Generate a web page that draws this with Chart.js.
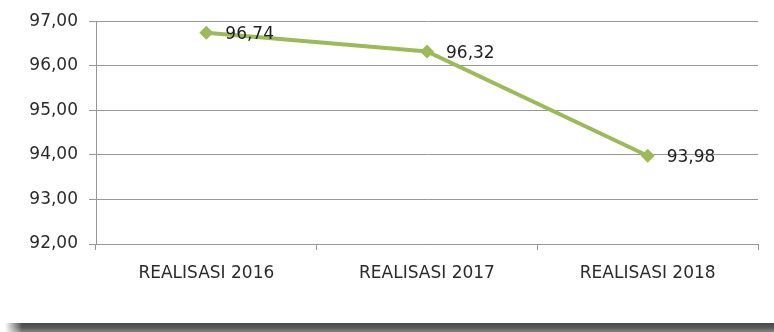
<!DOCTYPE html>
<html>
<head>
<meta charset="utf-8">
<script src="https://cdn.jsdelivr.net/npm/chart.js@4"></script>
<style>
  html, body { margin: 0; padding: 0; background: #fff; }
  #wrap { position: relative; width: 774px; height: 332px; overflow: hidden; }
  #chart { position: absolute; left: 0; top: 0; }
  #shadow {
    position: absolute; left: 0; top: 323px; width: 774px; height: 9px;
    background: linear-gradient(to bottom, #4a4a4a 0%, #585858 50%, #858585 100%);
    -webkit-mask-image: linear-gradient(to right, transparent 5px, #000 22px);
    mask-image: linear-gradient(to right, transparent 5px, #000 22px);
  }
</style>
</head>
<body>
<div id="wrap">
  <canvas id="chart" width="774" height="322"></canvas>
  <div id="shadow"></div>
</div>
<script>
const categories = ["REALISASI 2016", "REALISASI 2017", "REALISASI 2018"];
const values = [96.74, 96.32, 93.98];
const yMin = 92;
const yMax = 97;

const fmt = (v) => v.toFixed(2).replace(".", ",");
const gridColor = "#979797";
const textColor = "#2b2b2b";

// writes each value to the right of its marker
const valueLabels = {
  id: "valueLabels",
  afterDatasetsDraw(chart) {
    const ctx = chart.ctx;
    const meta = chart.getDatasetMeta(0);
    ctx.save();
    ctx.font = "17px 'DejaVu Sans'";
    ctx.fillStyle = "#1f1f1f";
    ctx.textAlign = "left";
    ctx.textBaseline = "middle";
    meta.data.forEach((pt, i) => {
      ctx.fillText(fmt(values[i]), pt.x + 19, pt.y + 2);
    });
    ctx.restore();
  },
};

const ctx = document.getElementById("chart").getContext("2d");
new Chart(ctx, {
  type: "line",
  data: {
    labels: categories,
    datasets: [
      {
        data: values,
        borderColor: "#9bbb59",
        backgroundColor: "#9bbb59",
        borderWidth: 4,
        tension: 0,
        pointStyle: "rectRot",
        pointRadius: 7,
        pointBorderWidth: 0,
      },
    ],
  },
  options: {
    responsive: false,
    animation: { duration: 0 },
    layout: { padding: { left: 0, right: 16, top: 19, bottom: 0 } },
    plugins: {
      legend: { display: false },
      tooltip: { enabled: false },
    },
    scales: {
      x: {
        offset: true,
        grid: {
          offset: true,
          drawOnChartArea: false,
          drawTicks: true,
          tickLength: 6,
          color: gridColor,
        },
        border: { color: gridColor },
        ticks: { color: textColor, font: { family: "DejaVu Sans", size: 17 }, padding: 13, maxRotation: 0 },
        afterFit(scale) { scale.height = 78; },
      },
      y: {
        min: yMin,
        max: yMax,
        ticks: {
          stepSize: 1,
          color: textColor,
          font: { family: "DejaVu Sans", size: 17 },
          padding: 11,
          callback: (v) => fmt(v),
        },
        grid: { color: gridColor, tickLength: 7 },
        border: { color: gridColor },
        afterFit(scale) { scale.width = 96; },
      },
    },
  },
  plugins: [valueLabels],
});
</script>
</body>
</html>
